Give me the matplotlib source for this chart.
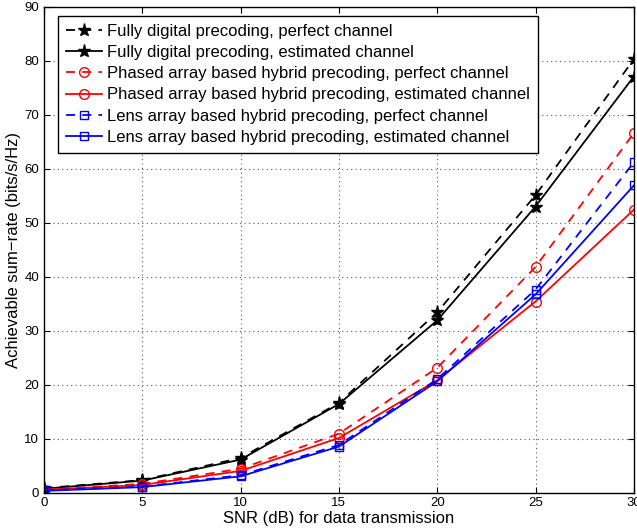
import matplotlib
matplotlib.use('Agg')
import matplotlib.pyplot as plt

plt.rcParams['font.family'] = ['Liberation Sans', 'DejaVu Sans']

snr = [0, 5, 10, 15, 20, 25, 30]

fd_perfect = [0.8, 2.3, 6.4, 16.6, 33.4, 55.1, 80.3]
fd_estimated = [0.7, 2.2, 6.1, 16.4, 31.9, 53.0, 77.1]
pa_perfect = [0.5, 1.6, 4.4, 10.9, 23.1, 41.8, 66.6]
pa_estimated = [0.5, 1.4, 4.0, 10.1, 20.8, 35.4, 52.4]
la_perfect = [0.4, 1.1, 3.2, 8.8, 21.0, 37.6, 61.2]
la_estimated = [0.3, 1.0, 3.0, 8.5, 20.6, 36.7, 56.9]

labels = [
    'Fully digital precoding, perfect channel',
    'Fully digital precoding, estimated channel',
    'Phased array based hybrid precoding, perfect channel',
    'Phased array based hybrid precoding, estimated channel',
    'Lens array based hybrid precoding, perfect channel',
    'Lens array based hybrid precoding, estimated channel',
]

fig = plt.figure(figsize=(6.37, 5.31), dpi=100)
ax = fig.add_axes([0.069, 0.0725, 0.926, 0.9145])

dash = (0, (5, 4))
ax.plot(snr, fd_perfect, color='k', ls=dash, lw=1.3, marker='*', ms=9.5, label=labels[0])
ax.plot(snr, fd_estimated, color='k', ls='-', lw=1.3, marker='*', ms=9.5, label=labels[1])
ax.plot(snr, pa_perfect, color='r', ls=dash, lw=1.3, marker='o', ms=7, mfc='none', label=labels[2])
ax.plot(snr, pa_estimated, color='r', ls='-', lw=1.3, marker='o', ms=7, mfc='none', label=labels[3])
ax.plot(snr, la_perfect, color='b', ls=dash, lw=1.3, marker='s', ms=6, mfc='none', label=labels[4])
ax.plot(snr, la_estimated, color='b', ls='-', lw=1.3, marker='s', ms=6, mfc='none', label=labels[5])

ax.set_xlim(0, 30)
ax.set_ylim(0, 90)
ax.set_xticks(range(0, 31, 5))
ax.set_yticks(range(0, 91, 10))
ax.tick_params(direction='in', labelsize=9.5, length=4, top=True, right=True)
ax.grid(True, ls=(0, (1, 3)), color='0.35', lw=0.8)
for s in ax.spines.values():
    s.set_linewidth(1.0)

ax.set_xlabel('SNR (dB) for data transmission', fontsize=12, labelpad=1)
ax.set_ylabel('Achievable sum\u2212rate (bits/s/Hz)', fontsize=12, labelpad=2)

leg = ax.legend(loc='upper left', bbox_to_anchor=(0.024, 0.982), fontsize=12,
                frameon=True, fancybox=False, edgecolor='k', framealpha=1,
                handlelength=2.15, handletextpad=0.3, borderpad=0.5,
                labelspacing=0.37, borderaxespad=0)
leg.get_frame().set_linewidth(1.0)

fig.savefig('out.png', dpi=100)
